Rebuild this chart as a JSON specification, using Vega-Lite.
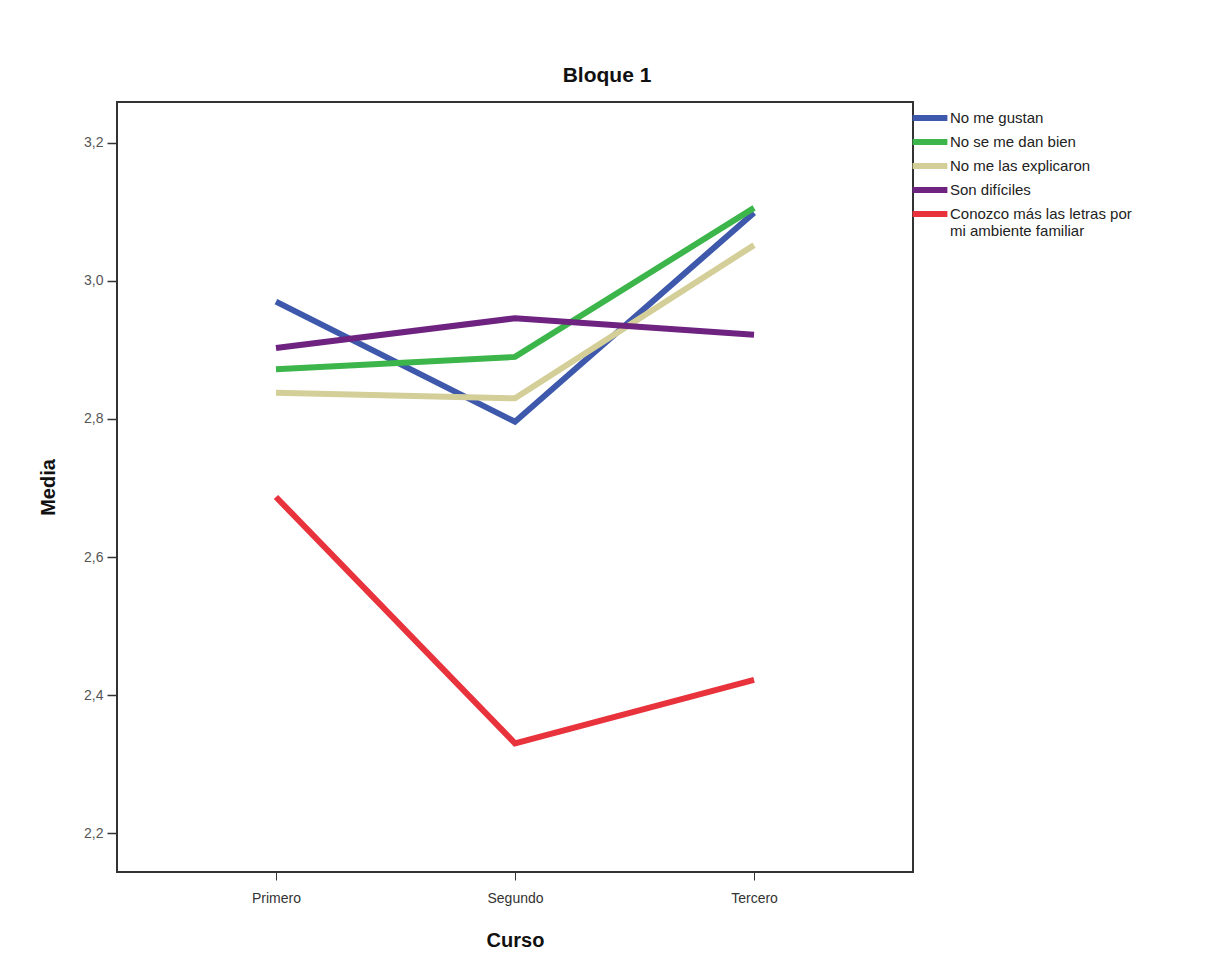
{
  "$schema": "https://vega.github.io/schema/vega-lite/v6.json",
  "width": 796,
  "height": 770,
  "autosize": {"type": "none"},
  "padding": {"left": 117, "top": 102, "right": 299, "bottom": 97},
  "background": "white",
  "title": {
    "text": "Bloque 1",
    "font": "Liberation Sans",
    "fontSize": 21,
    "fontWeight": "bold",
    "color": "#111111",
    "anchor": "middle",
    "frame": "group",
    "dx": 92,
    "offset": 16
  },
  "data": {
    "values": [
      {"curso": "Primero", "serie": "No me gustan", "media": 2.970},
      {"curso": "Segundo", "serie": "No me gustan", "media": 2.796},
      {"curso": "Tercero", "serie": "No me gustan", "media": 3.099},
      {"curso": "Primero", "serie": "No se me dan bien", "media": 2.872},
      {"curso": "Segundo", "serie": "No se me dan bien", "media": 2.890},
      {"curso": "Tercero", "serie": "No se me dan bien", "media": 3.106},
      {"curso": "Primero", "serie": "No me las explicaron", "media": 2.838},
      {"curso": "Segundo", "serie": "No me las explicaron", "media": 2.830},
      {"curso": "Tercero", "serie": "No me las explicaron", "media": 3.052},
      {"curso": "Primero", "serie": "Son difíciles", "media": 2.903},
      {"curso": "Segundo", "serie": "Son difíciles", "media": 2.946},
      {"curso": "Tercero", "serie": "Son difíciles", "media": 2.922},
      {"curso": "Primero", "serie": "Conozco más las letras por mi ambiente familiar", "media": 2.687},
      {"curso": "Segundo", "serie": "Conozco más las letras por mi ambiente familiar", "media": 2.330},
      {"curso": "Tercero", "serie": "Conozco más las letras por mi ambiente familiar", "media": 2.422}
    ]
  },
  "mark": {"type": "line", "strokeWidth": 6, "strokeCap": "butt", "strokeJoin": "miter"},
  "encoding": {
    "x": {
      "field": "curso",
      "type": "ordinal",
      "sort": ["Primero", "Segundo", "Tercero"],
      "scale": {"type": "point", "padding": 0.665},
      "axis": {
        "title": "Curso",
        "titleFont": "Liberation Sans",
        "titleFontSize": 20,
        "titleFontWeight": "bold",
        "titleColor": "#111111",
        "titlePadding": 25,
        "labelFont": "Liberation Sans",
        "labelFontSize": 14,
        "labelColor": "#333333",
        "labelAngle": 0,
        "labelPadding": 11,
        "tickSize": 8,
        "tickColor": "#333333",
        "domain": false,
        "grid": false
      }
    },
    "y": {
      "field": "media",
      "type": "quantitative",
      "scale": {"domain": [2.1435, 3.2594], "nice": false, "zero": false},
      "axis": {
        "title": "Media",
        "titleFont": "Liberation Sans",
        "titleFontSize": 20,
        "titleFontWeight": "bold",
        "titleColor": "#111111",
        "titlePadding": 25,
        "values": [2.2, 2.4, 2.6, 2.8, 3.0, 3.2],
        "format": ".1f",
        "labelExpr": "replace(datum.label, '.', ',')",
        "labelFont": "Liberation Sans",
        "labelFontSize": 14,
        "labelColor": "#555555",
        "labelPadding": 4,
        "tickSize": 10,
        "tickWidth": 1.5,
        "tickColor": "#333333",
        "domain": false,
        "grid": false
      }
    },
    "color": {
      "field": "serie",
      "type": "nominal",
      "scale": {
        "domain": ["No me gustan", "No se me dan bien", "No me las explicaron", "Son difíciles", "Conozco más las letras por mi ambiente familiar"],
        "range": ["#3E58AC", "#3CB64A", "#D4CE98", "#6E2380", "#E8323C"]
      },
      "legend": {
        "title": null,
        "orient": "none",
        "legendX": 804,
        "legendY": 7,
        "symbolType": "M-2.9,0H2.9",
        "symbolSize": 144,
        "symbolStrokeWidth": 6,
        "labelFont": "Liberation Sans",
        "labelFontSize": 15,
        "labelColor": "#222222",
        "labelOffset": 11,
        "labelLimit": 300,
        "rowPadding": 0,
        "labelExpr": "datum.label == 'Conozco más las letras por mi ambiente familiar' ? ['Conozco más las letras por', 'mi ambiente familiar'] : datum.label"
      }
    }
  },
  "config": {
    "view": {"stroke": "#333333", "strokeWidth": 2}
  }
}
